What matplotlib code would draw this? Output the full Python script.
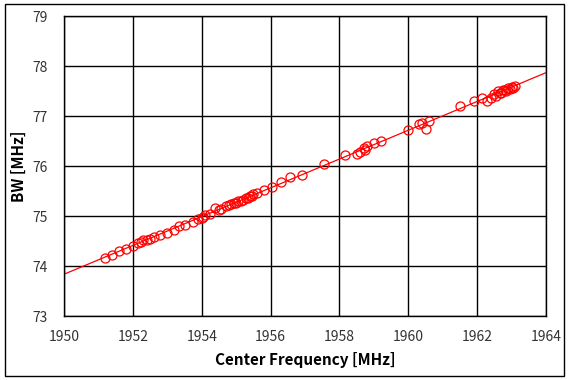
import matplotlib
matplotlib.use("Agg")
import matplotlib.pyplot as plt
import numpy as np

plt.rcParams["font.family"] = ["Noto Sans CJK KR", "DejaVu Sans"]

# measured points: center frequency [MHz] vs bandwidth [MHz]
freq = [1951.2, 1951.4, 1951.6, 1951.8, 1952.0, 1952.15, 1952.25, 1952.3, 1952.4,
        1952.5, 1952.6, 1952.8, 1953.0, 1953.2, 1953.35, 1953.5, 1953.75, 1953.9,
        1954.0, 1954.05, 1954.1, 1954.25, 1954.4, 1954.5, 1954.55, 1954.7,
        1954.8, 1954.85, 1954.95, 1955.0, 1955.05, 1955.15, 1955.2, 1955.3,
        1955.35, 1955.4, 1955.45, 1955.5, 1955.6, 1955.8, 1956.05, 1956.3,
        1956.55, 1956.9, 1957.55, 1958.15, 1958.5, 1958.6, 1958.7, 1958.75,
        1958.8, 1959.0, 1959.2, 1960.0, 1960.3, 1960.4, 1960.5, 1960.6, 1961.5,
        1961.9, 1962.15, 1962.3, 1962.4, 1962.5, 1962.55, 1962.6, 1962.65,
        1962.7, 1962.75, 1962.8, 1962.85, 1962.9, 1962.95, 1963.0, 1963.05,
        1963.1]
bw = [74.17, 74.23, 74.30, 74.34, 74.40, 74.47, 74.49, 74.51, 74.53,
      74.55, 74.58, 74.63, 74.67, 74.73, 74.80, 74.82, 74.88, 74.93,
      74.97, 74.99, 75.01, 75.04, 75.17, 75.12, 75.14, 75.20,
      75.22, 75.25, 75.27, 75.26, 75.29, 75.31, 75.33, 75.37,
      75.36, 75.40, 75.41, 75.43, 75.47, 75.53, 75.58, 75.68,
      75.78, 75.83, 76.05, 76.22, 76.24, 76.28, 76.36, 76.33,
      76.40, 76.46, 76.50, 76.72, 76.85, 76.86, 76.75, 76.90, 77.20,
      77.30, 77.37, 77.30, 77.36, 77.45, 77.41, 77.50, 77.46,
      77.47, 77.52, 77.53, 77.50, 77.56, 77.54, 77.58, 77.57,
      77.61]

fig = plt.figure(figsize=(5.69, 3.80), dpi=100)
ax = fig.add_axes([64 / 569, 64 / 380, (546 - 64) / 569, 300 / 380])

ax.plot(freq, bw, "o", mfc="none", mec="#ff0000", ms=6.5, mew=0.9, zorder=3)

# linear fit drawn across the whole axis
p = np.polyfit(freq, bw, 1)
xs = np.array([1950, 1964])
ax.plot(xs, np.polyval(p, xs), color="#ff0000", lw=0.9, zorder=2)

ax.set_xlim(1950, 1964)
ax.set_ylim(73, 79)
ax.set_xticks(range(1950, 1965, 2))
ax.set_yticks(range(73, 80))
ax.grid(True, color="black", lw=1.0)
ax.tick_params(length=0, labelsize=10, labelcolor="#333333")
ax.tick_params(axis="x", pad=10)
ax.tick_params(axis="y", pad=12)
for s in ax.spines.values():
    s.set_linewidth(1.0)
ax.set_xlabel("Center Frequency [MHz]", fontsize=11, fontweight="bold", labelpad=6)
ax.set_ylabel("BW [MHz]", fontsize=11, fontweight="bold", labelpad=4)

fig.patches.append(plt.Rectangle((0.008, 0.01), 0.984, 0.98, transform=fig.transFigure,
                                 fill=False, edgecolor="black", lw=1.0))
fig.savefig("out.png", dpi=100)
